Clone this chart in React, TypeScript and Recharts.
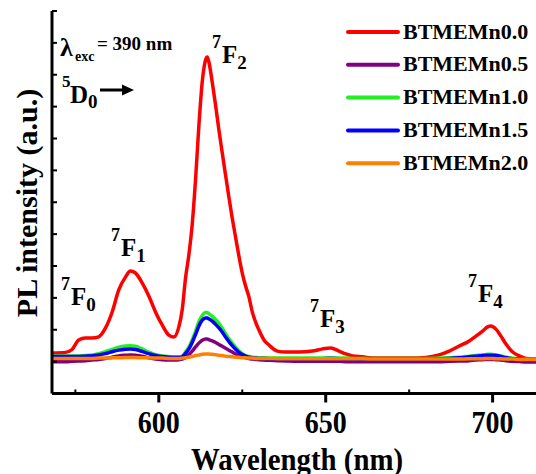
import React from 'react';
import { LineChart, Line, XAxis, YAxis } from 'recharts';

// Wavelength grid (nm)
const WAVELENGTHS = [
  568, 572, 574, 576, 578, 580, 582, 584, 586, 588,
  590, 591.5, 593, 595, 597, 599, 601, 603, 604.5, 606,
  607, 608, 609, 610, 611, 612, 613, 614, 614.5, 615,
  616, 617, 618, 619, 620, 621, 622, 623, 624, 625,
  626, 627, 628, 629, 630, 631.5, 633, 635.5, 638, 642,
  646, 649, 651.5, 654, 656, 658, 661, 665, 670, 675,
  680, 684, 687, 690, 693, 695, 697, 698.5, 699.5, 701,
  702.5, 704, 706, 708, 710, 713,
];

const BTMEMN00 = [
  1.27, 1.29, 1.38, 1.68, 1.74, 1.74, 1.78, 2.05, 2.55, 3.25,
  3.65, 3.84, 3.78, 3.47, 3.06, 2.56, 2.15, 1.83, 1.77, 2.09,
  2.62, 3.62, 4.35, 5.3, 6.7, 8.4, 9.77, 10.46, 10.56, 10.4,
  9.77, 9.05, 8.27, 7.55, 6.85, 6.16, 5.5, 4.9, 4.31, 3.78,
  3.37, 3.03, 2.56, 2.24, 1.99, 1.68, 1.52, 1.33, 1.3, 1.3,
  1.33, 1.4, 1.43, 1.33, 1.24, 1.18, 1.15, 1.11, 1.11, 1.11,
  1.13, 1.21, 1.33, 1.49, 1.65, 1.8, 1.96, 2.09, 2.12, 2.02,
  1.8, 1.55, 1.3, 1.18, 1.1, 1.08,
];

const BTMEMN05 = [
  1.0, 1.0, 1.01, 1.02, 1.03, 1.05, 1.07, 1.1, 1.14, 1.18,
  1.2, 1.21, 1.2, 1.17, 1.12, 1.08, 1.06, 1.05, 1.05, 1.06,
  1.08, 1.13, 1.22, 1.33, 1.46, 1.58, 1.67, 1.71, 1.71, 1.69,
  1.65, 1.6, 1.54, 1.48, 1.42, 1.36, 1.3, 1.24, 1.19, 1.15,
  1.12, 1.1, 1.08, 1.07, 1.06, 1.05, 1.04, 1.03, 1.02, 1.01,
  1.01, 1.01, 1.01, 1.01, 1.0, 1.0, 1.0, 1.0, 1.0, 1.0,
  1.0, 1.0, 1.01, 1.02, 1.03, 1.05, 1.06, 1.07, 1.07, 1.06,
  1.05, 1.03, 1.01, 1.0, 0.99, 0.99,
];

const BTMEMN10 = [
  1.18, 1.18, 1.18, 1.18, 1.19, 1.21, 1.25, 1.31, 1.38, 1.45,
  1.49, 1.5, 1.48, 1.4, 1.3, 1.22, 1.18, 1.16, 1.15, 1.15,
  1.17, 1.3, 1.45, 1.68, 1.95, 2.25, 2.45, 2.54, 2.54, 2.5,
  2.42, 2.32, 2.2, 2.05, 1.88, 1.72, 1.58, 1.45, 1.33, 1.25,
  1.19, 1.16, 1.14, 1.13, 1.12, 1.12, 1.11, 1.11, 1.11, 1.11,
  1.11, 1.11, 1.12, 1.11, 1.11, 1.1, 1.1, 1.1, 1.1, 1.1,
  1.1, 1.11, 1.12, 1.14, 1.17, 1.19, 1.21, 1.23, 1.23, 1.21,
  1.18, 1.14, 1.11, 1.09, 1.08, 1.07,
];

const BTMEMN15 = [
  1.16, 1.16, 1.16, 1.16, 1.17, 1.18, 1.21, 1.25, 1.31, 1.36,
  1.39, 1.4, 1.38, 1.32, 1.25, 1.19, 1.16, 1.14, 1.13, 1.13,
  1.15, 1.26, 1.4, 1.6, 1.85, 2.12, 2.3, 2.37, 2.37, 2.34,
  2.27, 2.17, 2.06, 1.93, 1.77, 1.63, 1.5, 1.39, 1.29, 1.22,
  1.17, 1.14, 1.12, 1.11, 1.1, 1.1, 1.09, 1.09, 1.09, 1.09,
  1.09, 1.09, 1.1, 1.09, 1.09, 1.09, 1.08, 1.08, 1.08, 1.08,
  1.08, 1.09, 1.1, 1.12, 1.15, 1.17, 1.19, 1.2, 1.2, 1.19,
  1.16, 1.12, 1.09, 1.08, 1.07, 1.06,
];

const BTMEMN20 = [
  1.1, 1.1, 1.1, 1.1, 1.1, 1.1, 1.11, 1.11, 1.12, 1.12,
  1.13, 1.13, 1.13, 1.12, 1.12, 1.11, 1.11, 1.1, 1.1, 1.1,
  1.11, 1.12, 1.14, 1.16, 1.19, 1.21, 1.23, 1.24, 1.24, 1.24,
  1.23, 1.22, 1.2, 1.19, 1.17, 1.16, 1.15, 1.14, 1.13, 1.12,
  1.12, 1.11, 1.11, 1.1, 1.1, 1.1, 1.1, 1.09, 1.09, 1.09,
  1.09, 1.09, 1.09, 1.09, 1.09, 1.09, 1.09, 1.08, 1.08, 1.08,
  1.08, 1.08, 1.08, 1.08, 1.09, 1.09, 1.09, 1.1, 1.1, 1.09,
  1.09, 1.08, 1.08, 1.07, 1.07, 1.07,
];

const SERIES = [
  { key: 'n00', name: 'BTMEMn0.0', color: '#ff0000', values: BTMEMN00 },
  { key: 'n05', name: 'BTMEMn0.5', color: '#800080', values: BTMEMN05 },
  { key: 'n10', name: 'BTMEMn1.0', color: '#22f022', values: BTMEMN10 },
  { key: 'n15', name: 'BTMEMn1.5', color: '#0000ff', values: BTMEMN15 },
  { key: 'n20', name: 'BTMEMn2.0', color: '#ff8000', values: BTMEMN20 },
];

const X_TICKS = [575, 600, 625, 650, 675, 700];
const X_LABELED = [600, 650, 700];
const Y_TICKS = [0, 1, 2, 3, 4, 5, 6, 7, 8, 9, 10, 11, 12];

const data = WAVELENGTHS.map((w, i) => {
  const row: Record<string, number> = { wl: w };
  SERIES.forEach((s) => {
    row[s.key] = s.values[i];
  });
  return row;
});

const FONT = "'Liberation Serif', 'Times New Roman', Times, serif";
const TXT = { fontFamily: FONT, fontWeight: 700 as const };

const XTick = (props: any) => {
  const { x, y, payload } = props;
  const major = X_LABELED.includes(payload.value);
  if (!major) {
    return <line x1={x} x2={x} y1={y} y2={y - 4} stroke="#000" strokeWidth={2} />;
  }
  return (
    <g>
      <line x1={x} x2={x} y1={y} y2={y + 9} stroke="#000" strokeWidth={3} />
      <text
        x={x}
        y={y + 39.5}
        textAnchor="middle"
        style={{ ...TXT, fontSize: 31 }}
        textLength={42}
        lengthAdjust="spacingAndGlyphs"
        fill="#000"
      >
        {payload.value}
      </text>
    </g>
  );
};

const YTick = (props: any) => {
  const { x, y } = props;
  return <line x1={x} x2={x + 5} y1={y} y2={y} stroke="#000" strokeWidth={2} />;
};

const Term = ({ x, y, sub }: { x: number; y: number; sub: string }) => (
  <text x={x} y={y} style={TXT} fill="#000">
    <tspan style={{ fontSize: 18 }} dy={-15}>7</tspan>
    <tspan style={{ fontSize: 25 }} dx={1} dy={15}>F</tspan>
    <tspan style={{ fontSize: 19 }} dy={6}>{sub}</tspan>
  </text>
);

const Overlay = () => (
  <svg
    width={536}
    height={474}
    style={{ position: 'absolute', left: 0, top: 0, pointerEvents: 'none' }}
  >
    {/* axis titles */}
    <text
      x={297}
      y={470}
      textAnchor="middle"
      style={{ ...TXT, fontSize: 31 }}
      textLength={212}
      lengthAdjust="spacingAndGlyphs"
      fill="#000"
    >
      Wavelength (nm)
    </text>
    <text
      x={37}
      y={203}
      transform="rotate(-90 37 203)"
      textAnchor="middle"
      style={{ ...TXT, fontSize: 30 }}
      fill="#000"
    >
      PL intensity (a.u.)
    </text>

    {/* excitation annotation */}
    <text x={60} y={56} style={{ ...TXT, fontSize: 26 }} fill="#000">λ</text>
    <text x={75} y={61} style={{ ...TXT, fontSize: 14 }} fill="#000">exc</text>
    <text x={97} y={50} style={{ ...TXT, fontSize: 19 }} fill="#000">= 390 nm</text>

    {/* 5D0 -> */}
    <text x={62} y={87} style={{ ...TXT, fontSize: 17 }} fill="#000">5</text>
    <text x={70} y={103} style={{ ...TXT, fontSize: 25 }} fill="#000">D</text>
    <text x={88} y={108} style={{ ...TXT, fontSize: 19 }} fill="#000">0</text>
    <line x1={100} x2={124} y1={90} y2={90} stroke="#000" strokeWidth={3} />
    <polygon points="134,90 122,84.5 122,95.5" fill="#000" />

    {/* transitions */}
    <Term x={61} y={305} sub="0" />
    <Term x={111} y={256} sub="1" />
    <Term x={212} y={63} sub="2" />
    <Term x={310} y={327} sub="3" />
    <Term x={468} y={302} sub="4" />

    {/* legend */}
    {SERIES.map((s, i) => {
      const cy = 32 + i * 32.8;
      return (
        <g key={s.key}>
          <line x1={348} x2={398} y1={cy} y2={cy} stroke={s.color} strokeWidth={4} strokeLinecap="round" />
          <text x={403} y={cy + 6.5} style={{ ...TXT, fontSize: 22 }} fill="#000">
            {s.name}
          </text>
        </g>
      );
    })}
  </svg>
);

export default function App() {
  return (
    <div style={{ position: 'absolute', left: 0, top: 0, width: 536, height: 474, background: '#fff' }}>
      <LineChart
        width={536}
        height={474}
        data={data}
        margin={{ top: 11, right: 0, bottom: 0, left: 0 }}
      >
        <XAxis
          dataKey="wl"
          type="number"
          domain={[568, 713]}
          allowDataOverflow
          ticks={X_TICKS}
          interval={0}
          tick={XTick}
          tickLine={false}
          tickSize={0}
          tickMargin={0}
          height={80.5}
          axisLine={{ stroke: '#000', strokeWidth: 3 }}
        />
        <XAxis
          xAxisId="top"
          dataKey="wl"
          orientation="top"
          type="number"
          domain={[568, 713]}
          allowDataOverflow
          tick={false}
          tickLine={false}
          height={0}
          axisLine={{ stroke: '#000', strokeWidth: 3 }}
        />
        <YAxis
          type="number"
          domain={[0, 12]}
          allowDataOverflow
          ticks={Y_TICKS}
          interval={0}
          tick={YTick}
          tickLine={false}
          tickSize={0}
          tickMargin={0}
          width={52}
          axisLine={{ stroke: '#000', strokeWidth: 3 }}
        />
        {SERIES.map((s) => (
          <Line
            key={s.key}
            dataKey={s.key}
            name={s.name}
            type="monotone"
            stroke={s.color}
            strokeWidth={3.5}
            dot={false}
            activeDot={false}
            isAnimationActive={false}
          />
        ))}
      </LineChart>
      <Overlay />
    </div>
  );
}
